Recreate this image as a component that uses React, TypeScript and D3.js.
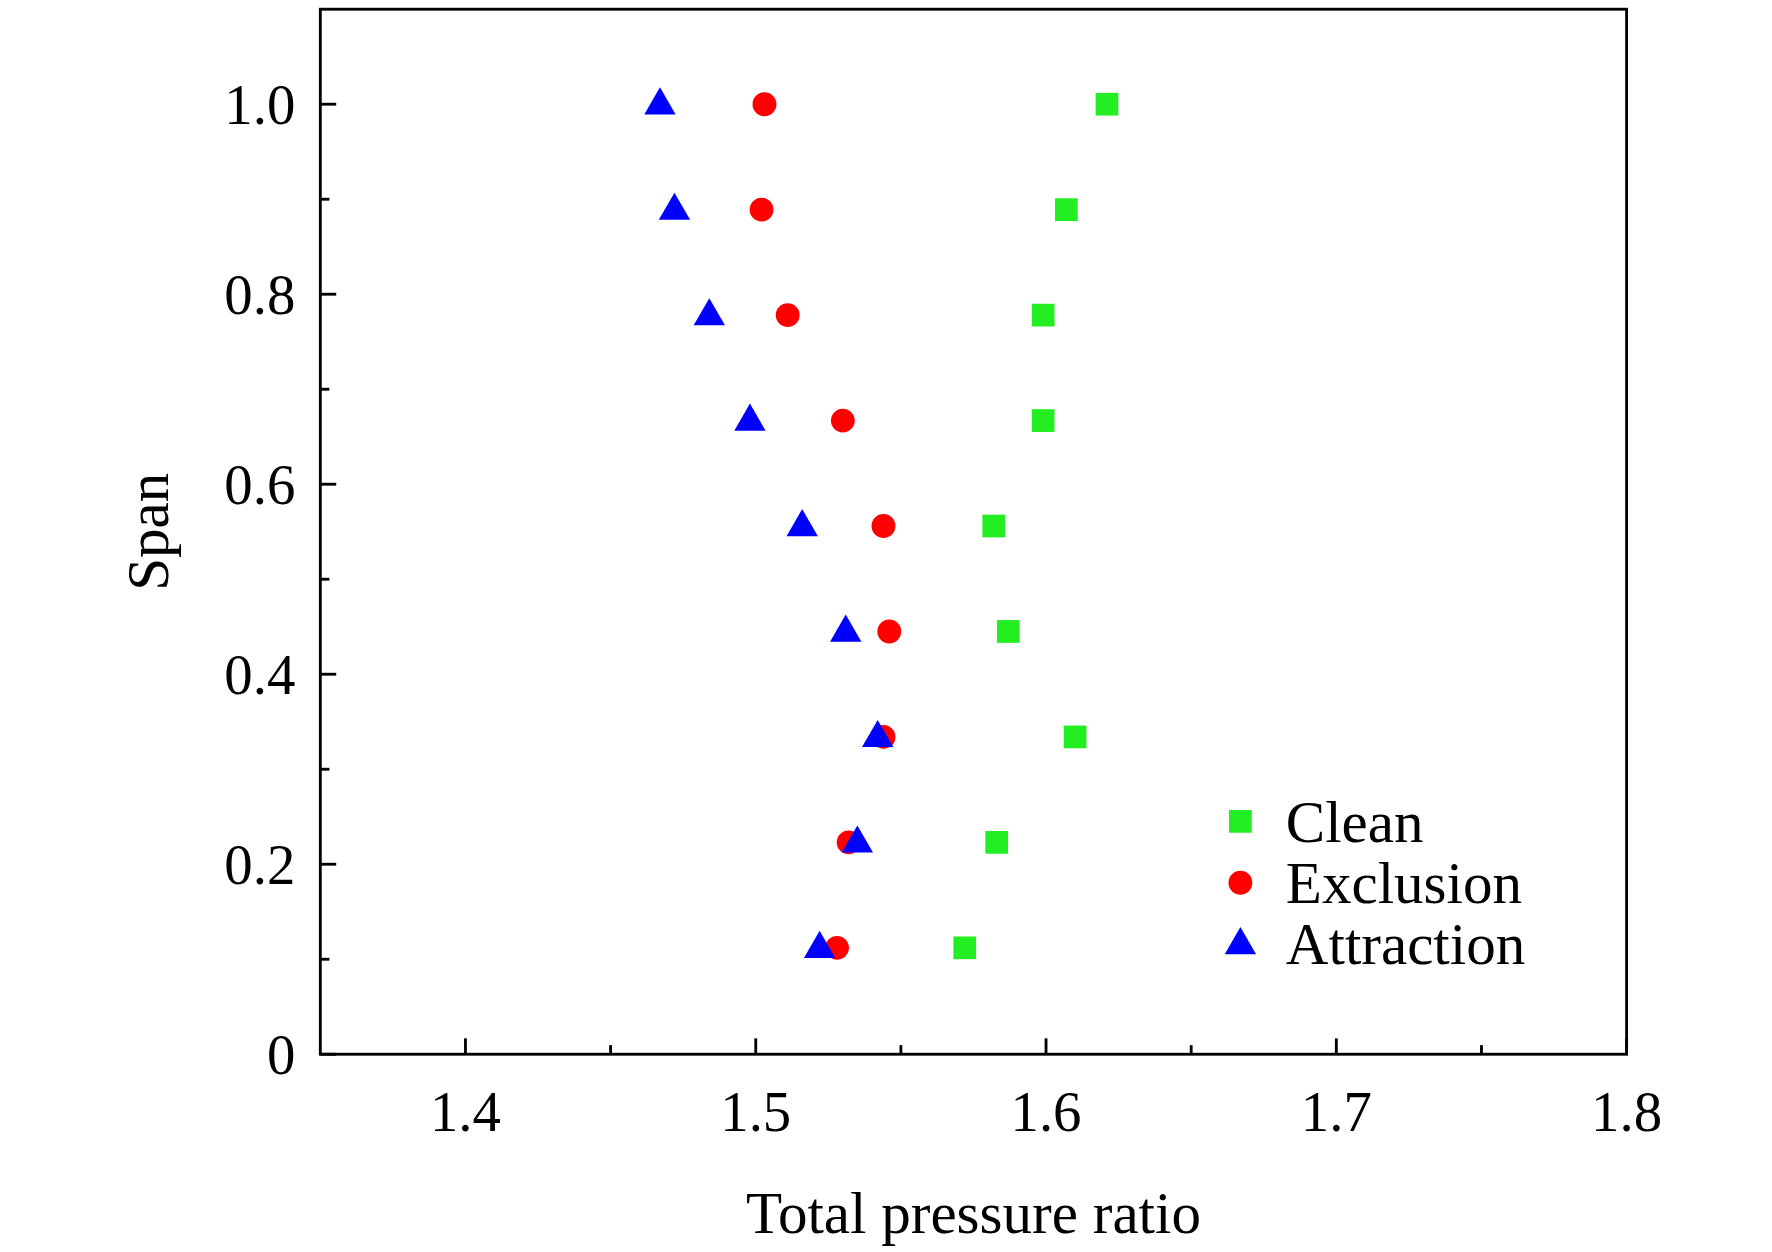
import React from "react";
import * as d3 from "d3";

const spans = [1.0, 0.889, 0.778, 0.667, 0.556, 0.445, 0.334, 0.223, 0.112];
const clean = [1.621, 1.607, 1.599, 1.599, 1.582, 1.587, 1.61, 1.583, 1.572];
const exclusion = [1.503, 1.502, 1.511, 1.53, 1.544, 1.546, 1.544, 1.532, 1.528];
const attraction = [1.467, 1.472, 1.484, 1.498, 1.516, 1.531, 1.542, 1.535, 1.522];
const xTicks = [1.4, 1.5, 1.6, 1.7, 1.8];
const xMinor = [1.45, 1.55, 1.65, 1.75];
const yTicks = [0, 0.2, 0.4, 0.6, 0.8, 1.0];
const yMinor = [0.1, 0.3, 0.5, 0.7, 0.9];

const W = 1560, H = 1102;
const L = 282, R = 1432, T = 8, B = 928;
const font = "'Liberation Serif', 'Times New Roman', serif";

function Marker({ kind, x, y }: { kind: string; x: number; y: number }) {
  if (kind === "square") return <rect x={x - 10} y={y - 10} width={20} height={20} fill="#22ee22" />;
  if (kind === "circle") return <circle cx={x} cy={y} r={10.5} fill="#ff0000" />;
  return <path d={d3.symbol(d3.symbolTriangle, 330)()!} transform={`translate(${x},${y + 1})`} fill="#0000ff" />;
}

export default function App() {
  const x = d3.scaleLinear().domain([1.35, 1.8]).range([L, R]);
  const y = d3.scaleLinear().domain([0, 1.1]).range([B, T]);
  const series = [
    { name: "Clean", kind: "square", data: clean },
    { name: "Exclusion", kind: "circle", data: exclusion },
    { name: "Attraction", kind: "triangle", data: attraction },
  ];
  return (
    <svg width={1772} height={1252} viewBox={`0 0 ${W} ${H}`}
      style={{ display: "block", position: "absolute", left: 0, top: 0 }}>
      <rect width={W} height={H} fill="#fff" />
      <rect x={L} y={T} width={R - L} height={B - T} fill="none" stroke="#000" strokeWidth={2.5} />
      {xTicks.map((t) => (
        <g key={"x" + t}>
          <line x1={x(t)} x2={x(t)} y1={B} y2={B - 14} stroke="#000" strokeWidth={2.5} />
          <text x={x(t)} y={B + 68} textAnchor="middle" fontSize={50} fontFamily={font}>{t.toFixed(1)}</text>
        </g>
      ))}
      {xMinor.map((t) => (
        <line key={"xm" + t} x1={x(t)} x2={x(t)} y1={B} y2={B - 8} stroke="#000" strokeWidth={2.5} />
      ))}
      {yTicks.map((t) => (
        <g key={"y" + t}>
          <line x1={L} x2={L + 14} y1={y(t)} y2={y(t)} stroke="#000" strokeWidth={2.5} />
          <text x={L - 22} y={y(t) + 17} textAnchor="end" fontSize={50} fontFamily={font}>{t === 0 ? "0" : t.toFixed(1)}</text>
        </g>
      ))}
      {yMinor.map((t) => (
        <line key={"ym" + t} x1={L} x2={L + 8} y1={y(t)} y2={y(t)} stroke="#000" strokeWidth={2.5} />
      ))}
      <text x={(L + R) / 2} y={1085} textAnchor="middle" fontSize={52} fontFamily={font}>Total pressure ratio</text>
      <text transform={`translate(148,${(T + B) / 2}) rotate(-90)`} textAnchor="middle" fontSize={52} fontFamily={font}>Span</text>
      {series.map((s) =>
        s.data.map((v, i) => <Marker key={s.name + i} kind={s.kind} x={x(v)} y={y(spans[i])} />)
      )}
      {series.map((s, i) => (
        <g key={"lg" + s.name}>
          <Marker kind={s.kind} x={1092} y={723 + i * 54} />
          <text x={1132} y={741 + i * 54} fontSize={52} fontFamily={font}>{s.name}</text>
        </g>
      ))}
    </svg>
  );
}
